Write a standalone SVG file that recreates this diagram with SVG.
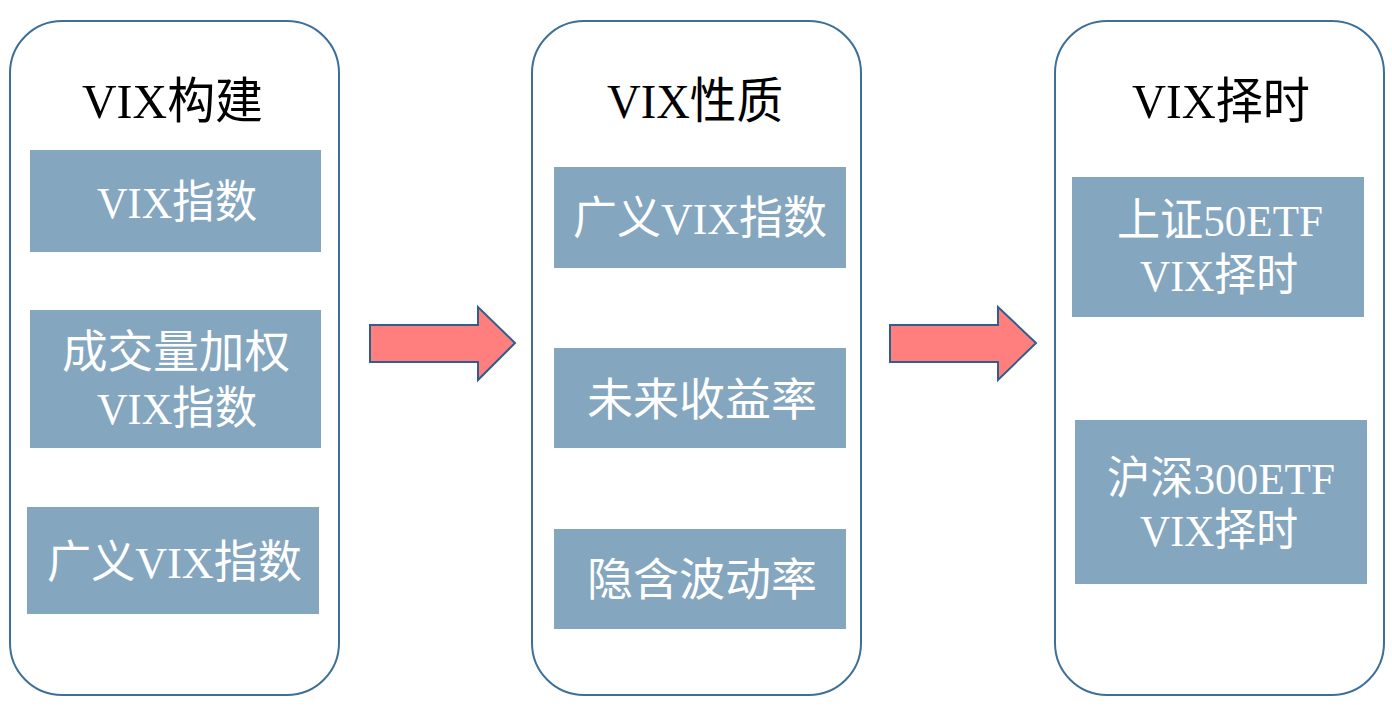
<svg xmlns="http://www.w3.org/2000/svg" width="1392" height="708" viewBox="0 0 1392 708">
<style>
.panel{fill:#ffffff;stroke:#3d6f98;stroke-width:2}
.box{fill:#84a6bf}
.title{font-family:"Liberation Serif","Noto Sans CJK SC",serif;font-size:49px;fill:#000000;text-anchor:middle}
.lbl{font-family:"Liberation Serif","Noto Sans CJK SC",serif;font-size:45px;fill:#ffffff;text-anchor:middle}
.arrow{fill:#ff7f7f;stroke:#2f5f8a;stroke-width:2;stroke-linejoin:miter}
</style>
<rect width="1392" height="708" fill="#ffffff"/>
<g id="panel-build">
<rect class="panel" x="10" y="21" width="329" height="674" rx="52" ry="52"/>
<text class="title" x="172.5" y="118" textLength="181" lengthAdjust="spacingAndGlyphs">VIX构建</text>
</g>
<g id="node-vix-index">
<rect class="box" x="30" y="150" width="291" height="102"/>
<text class="lbl" x="177" y="218" textLength="160" lengthAdjust="spacingAndGlyphs">VIX指数</text>
</g>
<g id="node-volume-weighted">
<rect class="box" x="30" y="310" width="291" height="138"/>
<text class="lbl" x="176" y="368" textLength="228" lengthAdjust="spacingAndGlyphs">成交量加权</text>
<text class="lbl" x="177" y="424" textLength="160" lengthAdjust="spacingAndGlyphs">VIX指数</text>
</g>
<g id="node-generalized-1">
<rect class="box" x="27" y="507" width="292" height="107"/>
<text class="lbl" x="174.5" y="578" textLength="255" lengthAdjust="spacingAndGlyphs">广义VIX指数</text>
</g>
<g id="panel-properties">
<rect class="panel" x="532" y="21" width="329" height="674" rx="52" ry="52"/>
<text class="title" x="695" y="118" textLength="176" lengthAdjust="spacingAndGlyphs">VIX性质</text>
</g>
<g id="node-generalized-2">
<rect class="box" x="554" y="167" width="292" height="101"/>
<text class="lbl" x="700" y="234" textLength="254" lengthAdjust="spacingAndGlyphs">广义VIX指数</text>
</g>
<g id="node-future-return">
<rect class="box" x="554" y="348" width="292" height="100"/>
<text class="lbl" x="702" y="416" textLength="230" lengthAdjust="spacingAndGlyphs">未来收益率</text>
</g>
<g id="node-implied-vol">
<rect class="box" x="554" y="529" width="292" height="100"/>
<text class="lbl" x="702" y="596" textLength="230" lengthAdjust="spacingAndGlyphs">隐含波动率</text>
</g>
<g id="panel-timing">
<rect class="panel" x="1055" y="21" width="329" height="674" rx="52" ry="52"/>
<text class="title" x="1221" y="118" textLength="178" lengthAdjust="spacingAndGlyphs">VIX择时</text>
</g>
<g id="node-sz50">
<rect class="box" x="1072" y="177" width="292" height="140"/>
<text class="lbl" x="1220" y="236" textLength="206" lengthAdjust="spacingAndGlyphs">上证50ETF</text>
<text class="lbl" x="1219" y="291" textLength="158" lengthAdjust="spacingAndGlyphs">VIX择时</text>
</g>
<g id="node-hs300">
<rect class="box" x="1075" y="420" width="292" height="164"/>
<text class="lbl" x="1221" y="494" textLength="228" lengthAdjust="spacingAndGlyphs">沪深300ETF</text>
<text class="lbl" x="1219" y="546" textLength="158" lengthAdjust="spacingAndGlyphs">VIX择时</text>
</g>
<g id="connectors">
<path class="arrow" d="M370,325 L478,325 L478,307 L515,343 L478,380 L478,362 L370,362 Z"/>
<path class="arrow" d="M890,325 L998,325 L998,307 L1036,343 L998,380 L998,362 L890,362 Z"/>
</g>
</svg>
